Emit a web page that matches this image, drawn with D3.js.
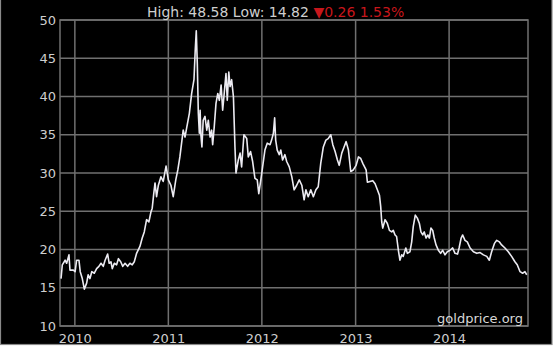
<!DOCTYPE html>
<html>
<head>
<meta charset="utf-8">
<script src="https://cdn.jsdelivr.net/npm/d3@7"></script>
<style>
  body { margin: 0; background: #fff; }
  text { font-family: "DejaVu Sans", Verdana, sans-serif; }
</style>
</head>
<body>
<svg id="chart" width="555" height="347"></svg>
<script>
// silver price, USD / oz, 5 years
var dates = [
  "2009-11-08","2009-11-13","2009-11-24","2009-11-30","2009-12-09","2009-12-13","2009-12-26",
  "2010-01-02","2010-01-08","2010-01-17","2010-01-22","2010-01-30","2010-02-07","2010-02-16",
  "2010-02-22","2010-03-01","2010-03-08","2010-03-18","2010-03-27","2010-04-05","2010-04-13",
  "2010-04-22","2010-04-29","2010-05-09","2010-05-15","2010-05-22","2010-05-27","2010-06-04",
  "2010-06-13","2010-06-20","2010-06-29","2010-07-07","2010-07-16","2010-07-26","2010-08-04",
  "2010-08-13","2010-08-21","2010-08-30","2010-09-12","2010-09-21","2010-09-29","2010-10-08",
  "2010-10-17","2010-10-25","2010-10-30","2010-11-05","2010-11-10","2010-11-16","2010-11-23",
  "2010-12-03","2010-12-12","2010-12-23",
  "2011-01-01","2011-01-11","2011-01-20","2011-01-30","2011-02-07","2011-02-15","2011-02-28",
  "2011-03-07","2011-03-14","2011-03-24","2011-04-02","2011-04-11","2011-04-16","2011-04-20",
  "2011-04-24","2011-04-28","2011-05-02","2011-05-05","2011-05-08","2011-05-12","2011-05-17",
  "2011-05-24","2011-05-31","2011-06-06","2011-06-13","2011-06-19","2011-06-23","2011-06-29",
  "2011-07-06","2011-07-13","2011-07-19","2011-07-26","2011-08-01","2011-08-06","2011-08-14",
  "2011-08-19","2011-08-25","2011-08-30","2011-09-05","2011-09-12","2011-09-18","2011-09-22",
  "2011-10-01","2011-10-08","2011-10-14","2011-10-23","2011-11-03","2011-11-09","2011-11-18",
  "2011-11-26","2011-12-05","2011-12-14","2011-12-20","2011-12-28",
  "2012-01-04","2012-01-13","2012-01-22","2012-02-02","2012-02-08","2012-02-15","2012-02-20",
  "2012-02-24","2012-03-01","2012-03-09","2012-03-15","2012-03-22","2012-03-31","2012-04-07",
  "2012-04-17","2012-04-27","2012-05-06","2012-05-16","2012-05-26","2012-06-05","2012-06-14",
  "2012-06-21","2012-06-30","2012-07-10","2012-07-20","2012-07-30","2012-08-08","2012-08-18",
  "2012-08-28","2012-09-07","2012-09-16","2012-09-26","2012-10-04","2012-10-13","2012-10-22",
  "2012-10-29","2012-11-08","2012-11-17","2012-11-25","2012-12-04","2012-12-13","2012-12-23",
  "2013-01-03","2013-01-12","2013-01-21","2013-01-30","2013-02-11","2013-02-16","2013-02-26",
  "2013-03-09","2013-03-18","2013-03-27","2013-04-04","2013-04-09","2013-04-13","2013-04-17",
  "2013-04-26","2013-05-05","2013-05-13","2013-05-22","2013-05-28","2013-06-04","2013-06-10",
  "2013-06-17","2013-06-23","2013-06-30","2013-07-06","2013-07-16","2013-07-22","2013-08-01",
  "2013-08-08","2013-08-14","2013-08-22","2013-08-30","2013-09-07","2013-09-13","2013-09-20",
  "2013-09-26","2013-10-03","2013-10-10","2013-10-16","2013-10-22","2013-10-29","2013-11-04",
  "2013-11-11","2013-11-20","2013-11-29","2013-12-07","2013-12-16","2013-12-25",
  "2014-01-05","2014-01-15","2014-01-24","2014-02-03","2014-02-09","2014-02-17","2014-02-23",
  "2014-03-04","2014-03-13","2014-03-24","2014-04-06","2014-04-19","2014-05-02","2014-05-15",
  "2014-05-28","2014-06-07","2014-06-16","2014-06-27","2014-07-06","2014-07-16","2014-07-25",
  "2014-08-07","2014-08-20","2014-09-02","2014-09-15","2014-09-24","2014-10-05","2014-10-15",
  "2014-10-24","2014-10-31"
];
var prices = [
  16.2, 18.0, 18.6, 18.2, 19.3, 17.3, 17.3,
  17.1, 18.6, 18.6, 17.1, 16.2, 14.82, 15.6,
  16.7, 16.2, 17.1, 16.9, 17.5, 17.8, 18.2,
  17.8, 18.6, 19.4, 18.2, 18.4, 17.5, 18.2,
  18.0, 18.8, 18.4, 17.8, 18.2, 17.8, 18.2,
  18.0, 18.4, 19.5, 20.4, 21.5, 22.3, 23.9,
  23.6, 24.9, 25.4, 27.3, 28.7, 26.9, 28.4,
  29.5, 28.9, 30.9,
  29.1, 28.4, 26.9, 29.1, 30.4, 32.1, 35.6,
  34.7, 36.0, 37.8, 40.4, 42.2, 46.1, 48.58,
  44.3, 37.8, 35.2, 38.2, 35.0, 33.4, 36.9,
  37.4, 35.6, 36.9, 34.7, 35.6, 33.7, 36.0,
  39.1, 40.4, 39.5, 41.5, 38.2, 40.0, 43.0,
  39.5, 43.2, 41.3, 42.2, 40.0, 33.4, 30.0,
  31.7, 32.6, 30.8, 35.0, 34.5, 32.1, 32.8,
  31.5, 29.3, 29.1, 27.3, 29.1,
  30.8, 33.0, 33.9, 33.7, 34.3, 35.2, 37.2,
  34.3, 33.0, 32.4, 33.0, 31.7, 32.4, 31.5,
  30.8, 29.5, 27.8, 28.4, 29.1, 28.4, 26.5,
  27.8, 26.9, 27.8, 26.9, 27.8, 28.2, 31.3,
  33.4, 34.3, 34.5, 35.0, 33.7, 32.8, 31.7,
  31.0, 32.6, 33.4, 34.1, 33.0, 30.2, 30.4,
  31.0, 32.1, 31.9, 31.2, 30.4, 28.8, 28.9,
  29.0, 28.6, 27.8, 27.1, 25.6, 23.6, 22.8,
  23.9, 23.4, 22.5, 22.3, 22.5, 21.9, 21.7,
  19.9, 18.6, 19.3, 19.1, 20.2, 19.5, 19.7,
  21.0, 23.0, 24.5, 24.1, 23.4, 22.3, 21.9,
  22.3, 21.5, 21.9, 21.5, 22.8, 22.5, 21.5,
  20.6, 19.9, 19.5, 19.9, 19.3, 19.7,
  19.9, 20.2, 19.5, 19.4, 20.2, 21.5, 21.9,
  21.2, 21.0, 20.2, 19.7, 19.5, 19.6, 19.3,
  19.1, 18.6, 19.7, 20.8, 21.2, 21.0, 20.6,
  20.2, 19.7, 19.1, 18.4, 18.0, 17.1, 16.9,
  17.1, 16.7
];
var yTicks = [10, 15, 20, 25, 30, 35, 40, 45, 50];
var yearTicks = ["2010-01-01", "2011-01-01", "2012-01-01", "2013-01-01", "2014-01-01"];
var change = -0.26;      // last day change
var changePct = 1.53;    // in percent
var source = "goldprice.org";

var parse = d3.timeParse("%Y-%m-%d");
var data = dates.map(function (d, i) { return { date: parse(d), price: prices[i] }; });

var svg = d3.select("#chart");
// plot box (window.top is reserved, so use prefixed names)
var plotLeft = 60, plotRight = 528, plotTop = 20, plotBottom = 326;

var x = d3.scaleTime()
    .domain([parse("2009-11-04"), parse("2014-11-05")])
    .range([plotLeft, plotRight]);
var y = d3.scaleLinear()
    .domain([10, 50])
    .range([plotBottom, plotTop]);

// black panel with thin grey frame
svg.append("rect")
    .attr("x", 0.5).attr("y", -2)
    .attr("width", 551.5).attr("height", 346.5)
    .attr("fill", "#000")
    .attr("stroke", "#8a8a8a")
    .attr("stroke-width", 1.2);

var gridColor = "#707070";

// horizontal grid
svg.append("g").selectAll("line").data(yTicks)
    .enter().append("line")
    .attr("x1", plotLeft).attr("x2", plotRight)
    .attr("y1", function (d) { return y(d); })
    .attr("y2", function (d) { return y(d); })
    .attr("stroke", gridColor)
    .attr("stroke-width", 1.5);

// vertical grid at year starts
svg.append("g").selectAll("line").data(yearTicks)
    .enter().append("line")
    .attr("x1", function (d) { return x(parse(d)); })
    .attr("x2", function (d) { return x(parse(d)); })
    .attr("y1", plotTop).attr("y2", plotBottom)
    .attr("stroke", gridColor)
    .attr("stroke-width", 1.5);

// plot frame
svg.append("rect")
    .attr("x", plotLeft).attr("y", plotTop)
    .attr("width", plotRight - plotLeft).attr("height", plotBottom - plotTop)
    .attr("fill", "none")
    .attr("stroke", gridColor)
    .attr("stroke-width", 1.5);

// axes (labels only)
var yAxis = svg.append("g")
    .attr("transform", "translate(" + plotLeft + ",0)")
    .call(d3.axisLeft(y).tickValues(yTicks).tickSize(0).tickPadding(4));
var xAxis = svg.append("g")
    .attr("transform", "translate(0," + plotBottom + ")")
    .call(d3.axisBottom(x).tickValues(yearTicks.map(parse))
        .tickFormat(d3.timeFormat("%Y")).tickSize(0).tickPadding(8));
[yAxis, xAxis].forEach(function (g) {
    g.select(".domain").remove();
    g.selectAll("text")
        .attr("fill", "#cfcfcf")
        .style("font-size", "13px")
        .style("font-family", "'DejaVu Sans', Verdana, sans-serif");
});

// price line
var line = d3.line()
    .x(function (d) { return x(d.date); })
    .y(function (d) { return y(d.price); });
svg.append("path")
    .datum(data)
    .attr("d", line)
    .attr("fill", "none")
    .attr("stroke", "#ecebf2")
    .attr("stroke-width", 1.6)
    .attr("stroke-linejoin", "round");

// header
var fmt = d3.format(".2f");
var title = svg.append("text")
    .attr("x", 147).attr("y", 16.5)
    .style("font-size", "14px")
    .attr("fill", "#cfcfcf");
title.append("tspan")
    .text("High: " + fmt(d3.max(prices)) + " Low: " + fmt(d3.min(prices)) + " ");
title.append("tspan")
    .attr("fill", "#c8161b")
    .text((change < 0 ? "\u25BC" : "\u25B2") + fmt(Math.abs(change)) + " " + fmt(changePct) + "%");

// source watermark
svg.append("text")
    .attr("x", 523).attr("y", 323)
    .attr("text-anchor", "end")
    .style("font-size", "13px")
    .attr("fill", "#d8d8d8")
    .text(source);
</script>
</body>
</html>
